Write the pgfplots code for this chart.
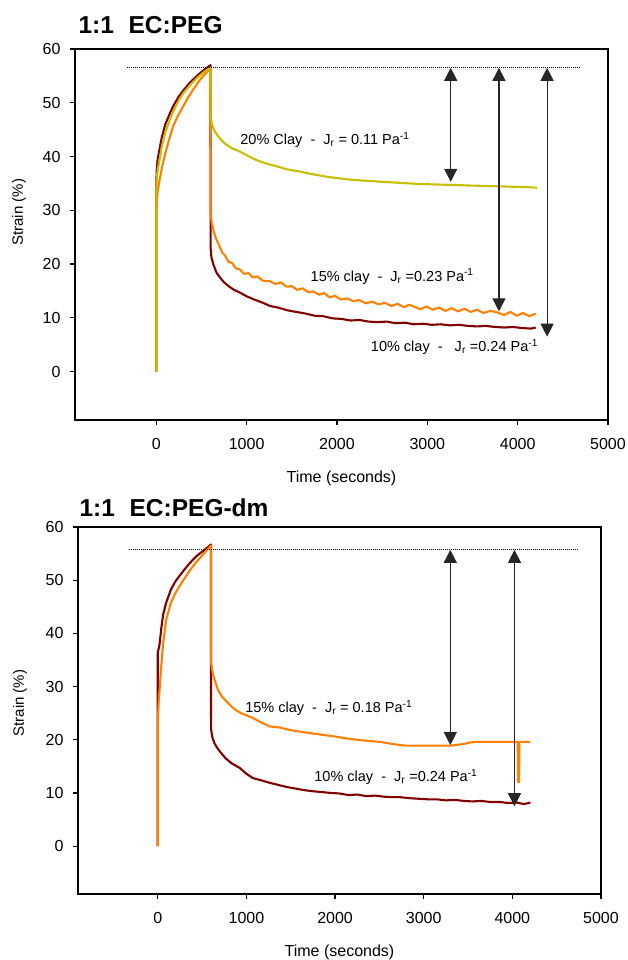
\documentclass[border=0pt]{standalone}
\usepackage{fontspec}
\setmainfont{Liberation Sans}
\usepackage{pgfplots}
\pgfplotsset{compat=1.18}
\usetikzlibrary{arrows.meta}
\definecolor{clayten}{HTML}{800000}
\definecolor{clayfifteen}{HTML}{FF8000}
\definecolor{claytwenty}{HTML}{C8BE00}

\pgfplotsset{
  creep/.style={
    scale only axis,
    xmin=-900, xmax=5000, ymin=-9, ymax=60,
    xtick={0,1000,...,5000}, ytick={0,10,...,60},
    tick pos=left, tick align=outside, major tick length=5pt,
    axis line style={line width=1.4pt},
    tick style={line width=1.2pt, black},
    ticklabel style={font=\fontsize{16}{18}\selectfont},
    xticklabel style={yshift=-10pt},
    yticklabel style={xshift=-6pt},
    /pgf/number format/assume math mode=true,
    /pgf/number format/1000 sep={},
    xlabel={Time (seconds)}, ylabel={Strain (\%)},
    every axis x label/.style={at={(axis description cs:0.5,0)}, anchor=center, yshift=-58pt, font=\fontsize{16}{18}\selectfont},
    every axis plot/.append style={line width=2.1pt, line join=round},
    clip=false,
  },
  ylab/.style 2 args={every axis y label/.style={at={(axis description cs:#1,#2)}, rotate=90, anchor=center, font=\fontsize{15}{17}\selectfont}},
}
\tikzset{
  note/.style={anchor=west, font=\fontsize{14.5}{17}\selectfont},
  jarrow/.style={{Triangle[width=13pt,length=13pt]}-{Triangle[width=13pt,length=13pt]}, line width=1.2pt, black!85},
  refline/.style={line width=0.8pt, dash pattern=on 0.8pt off 1.2pt},
}

\begin{document}
\begin{tikzpicture}
\useasboundingbox (0,0) rectangle (628pt,960pt);

% ---------- top: 1:1 EC:PEG ----------
\node[anchor=west, font=\bfseries\fontsize{24.5}{27}\selectfont] at (75pt,935pt) {1:1\hspace{0.6em}EC:PEG};
\begin{axis}[creep, ylab={-0.105}{0.56}, at={(75pt,540pt)}, anchor=south west, width=533pt, height=371pt]
\addplot[clayten] coordinates {
(0,0)(0,35)(5,37.5)(15,39.5)(37,41.5)(60,43.5)(100,46)(150,48)(185,49.3)(250,51.2)(300,52.3)(370,53.7)(450,55)(520,56)(600,57)
(601,23)(610,21.3)(630,20)(667,18.4)(700,17.6)(750,16.6)(800,15.9)(860,15.2)(925,14.7)(1000,14)(1100,13.3)(1180,12.8)(1259,12.2)(1350,11.9)(1450,11.4)(1550,11.1)(1650,10.8)(1750,10.4)(1850,10.3)(1950,9.9)(2050,9.8)(2150,9.5)(2250,9.6)(2350,9.3)(2450,9.2)(2550,9.3)(2650,9)(2750,9.1)(2850,8.8)(2950,8.9)(3050,8.7)(3150,8.8)(3250,8.6)(3350,8.7)(3450,8.5)(3550,8.4)(3650,8.5)(3750,8.3)(3850,8.2)(3950,8.3)(4050,8.1)(4150,8.0)(4200,8.2)
};
\addplot[clayfifteen] coordinates {
(0,0)(0,28)(5,31)(15,33.5)(37,35.7)(70,38.5)(111,41.3)(150,43.6)(185,45.6)(240,47.6)(296,49.3)(350,50.9)(407,52.4)(480,54.2)(555,55.6)(600,56.5)
(601,29.5)(615,27.5)(640,25.8)(667,24.5)(700,23.3)(730,22.1)(760,21.6)(800,20.4)(840,20.2)(880,19.2)(925,19.0)(970,18.2)(1020,18.3)(1070,17.5)(1120,17.7)(1180,16.9)(1259,16.8)(1320,16.3)(1380,16.6)(1440,15.8)(1500,15.9)(1560,15.2)(1620,15.5)(1680,14.8)(1740,14.9)(1800,14.3)(1860,14.6)(1920,13.8)(1980,14.1)(2040,13.4)(2114,13.6)(2180,13.1)(2250,13.3)(2320,12.7)(2390,13.0)(2460,12.5)(2530,12.8)(2600,12.2)(2670,12.6)(2740,12.0)(2800,12.4)(2852,12.1)(2920,11.6)(2990,12.1)(3060,11.5)(3130,11.9)(3200,11.3)(3270,11.8)(3340,11.2)(3410,11.7)(3480,11.1)(3550,11.5)(3620,10.9)(3700,11.3)(3776,11.0)(3850,10.5)(3920,11.1)(3990,10.4)(4060,10.9)(4130,10.3)(4200,10.8)
};
\addplot[claytwenty] coordinates {
(0,0)(0,33)(5,35.5)(15,37.5)(37,39.5)(60,41.8)(100,44.5)(150,46.8)(185,48.3)(250,50.5)(300,51.8)(370,53.2)(450,54.6)(520,55.6)(600,56.5)
(601,47.2)(620,45.8)(650,44.6)(700,43.4)(760,42.4)(830,41.6)(900,41.1)(960,40.6)(1030,40.0)(1100,39.4)(1180,38.9)(1259,38.5)(1350,38.1)(1450,37.6)(1593,37.2)(1700,36.8)(1800,36.5)(1900,36.2)(2000,36.0)(2150,35.7)(2300,35.5)(2500,35.3)(2703,35.1)(2900,34.9)(3100,34.8)(3300,34.7)(3481,34.6)(3700,34.5)(3900,34.4)(4100,34.3)(4215,34.2)
};
\draw[refline] (axis cs:-320,56.5) -- (axis cs:4690,56.5);
\draw[jarrow] (axis cs:3259,56.5) -- (axis cs:3259,35.3);
\draw[jarrow] (axis cs:3793,56.5) -- (axis cs:3793,11.2);
\draw[jarrow] (axis cs:4326,56.5) -- (axis cs:4326,6.5);
\node[note] at (axis cs:892,43.1) {20\% Clay\ \ -\ \ J\textsubscript{r} = 0.11 Pa\textsuperscript{-1}};
\node[note] at (axis cs:1670,17.7) {15\% clay\ \ -\ \ J\textsubscript{r} =0.23 Pa\textsuperscript{-1}};
\node[note] at (axis cs:2337,4.6) {10\% clay\ \ -\ \ \ J\textsubscript{r} =0.24 Pa\textsuperscript{-1}};
\end{axis}

% ---------- bottom: 1:1 EC:PEG-dm ----------
\node[anchor=west, font=\bfseries\fontsize{24.5}{27}\selectfont] at (76pt,452pt) {1:1\hspace{0.6em}EC:PEG-dm};
\begin{axis}[creep, ylab={-0.111}{0.52}, at={(78pt,66pt)}, anchor=south west, width=523pt, height=367pt]
\addplot[clayten] coordinates {
(0,0)(0,36.4)(8,37)(19,37.8)(40,41)(60,43.5)(95,45.8)(150,48.3)(200,49.8)(245,50.8)(300,52)(360,53.2)(434,54.5)(520,55.6)(600,56.7)
(601,22)(615,20.5)(640,19.3)(670,18.5)(700,17.8)(760,16.6)(830,15.6)(925,14.7)(1000,13.6)(1072,12.8)(1160,12.4)(1263,11.9)(1360,11.5)(1460,11.1)(1560,10.8)(1660,10.5)(1760,10.3)(1829,10.2)(1950,10.0)(2050,9.9)(2150,9.6)(2250,9.7)(2350,9.4)(2450,9.5)(2550,9.3)(2650,9.2)(2734,9.2)(2850,9.0)(2950,8.9)(3050,8.8)(3150,8.8)(3250,8.6)(3350,8.7)(3450,8.5)(3550,8.4)(3650,8.5)(3750,8.3)(3865,8.3)(3950,8.1)(4050,8.2)(4130,7.9)(4204,8.2)
};
\addplot[clayfifteen] coordinates {
(0,0)(0,22)(5,25)(10,27)(19,29)(40,34)(60,38)(95,42.6)(150,45.8)(200,47.6)(245,48.9)(300,50.3)(360,51.8)(434,53.4)(520,55)(600,56.5)
(601,34.5)(620,32.5)(650,30.8)(678,29.4)(720,28.2)(770,27.3)(811,26.6)(870,25.7)(940,25.0)(1000,24.6)(1072,24.1)(1150,23.4)(1263,22.5)(1376,22.3)(1500,21.8)(1650,21.4)(1829,21.0)(2000,20.6)(2150,20.2)(2300,19.9)(2507,19.6)(2650,19.2)(2790,18.9)(3000,18.9)(3300,18.9)(3450,19.2)(3526,19.5)(3600,19.6)(4060,19.6)(4065,12)(4075,12)(4080,19.6)(4200,19.6)
};
\draw[refline] (axis cs:-320,55.7) -- (axis cs:4740,55.7);
\draw[jarrow] (axis cs:3300,55.7) -- (axis cs:3300,19);
\draw[jarrow] (axis cs:4024,55.7) -- (axis cs:4024,7.5);
\node[note] at (axis cs:947,26) {15\% clay\ \ -\ \ J\textsubscript{r} = 0.18 Pa\textsuperscript{-1}};
\node[note] at (axis cs:1727,13) {10\% clay\ \ -\ \ J\textsubscript{r} =0.24 Pa\textsuperscript{-1}};
\end{axis}
\end{tikzpicture}
\end{document}
